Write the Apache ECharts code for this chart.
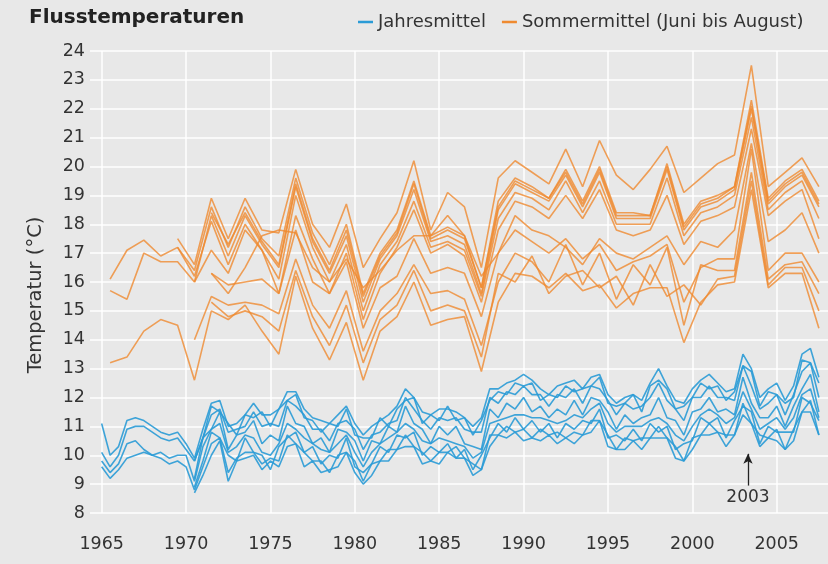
<!DOCTYPE html>
<html>
<head>
<meta charset="utf-8">
<title>Flusstemperaturen</title>
<script src="https://cdn.jsdelivr.net/npm/echarts@6/dist/echarts.min.js"></script>
<style>
  html, body { margin: 0; padding: 0; background: #e8e8e8; }
  #chart { width: 828px; height: 564px; }
</style>
</head>
<body>
<div id="chart"></div>
<script>
// Sommermittel (Juni bis August), ein Wert pro Jahr und Station
const summerYears = [1965, 1966, 1967, 1968, 1969, 1970, 1971, 1972, 1973, 1974,
  1975, 1976, 1977, 1978, 1979, 1980, 1981, 1982, 1983, 1984,
  1985, 1986, 1987, 1988, 1989, 1990, 1991, 1992, 1993, 1994,
  1995, 1996, 1997, 1998, 1999, 2000, 2001, 2002, 2003, 2004,
  2005, 2006, 2007];

const summer1 = [null, null, null, null, 17.5, 16.6, 18.9, 17.5, 18.9, 17.8,
  17.7, 19.9, 18.0, 17.2, 18.7, 16.5, 17.5, 18.4, 20.2, 17.8,
  19.1, 18.6, 16.5, 19.6, 20.2, 19.8, 19.4, 20.6, 19.3, 20.9,
  19.7, 19.2, 19.9, 20.7, 19.1, 19.6, 20.1, 20.4, 23.5, 19.3,
  19.8, 20.3, 19.3];
const summer2 = [16.1, 17.1, 17.45, 16.9, 17.2, 16.4, 18.6, 17.2, 18.6, 17.5,
  16.9, 19.6, 17.7, 16.6, 18.0, 15.6, 17.0, 17.8, 19.5, 17.6,
  17.9, 17.6, 15.8, 18.8, 19.6, 19.3, 18.9, 19.9, 18.8, 20.0,
  18.4, 18.4, 18.3, 20.1, 18.0, 18.8, 19.0, 19.3, 22.3, 18.9,
  19.5, 19.9, 18.8];
const summer3 = [15.7, 15.4, 17.0, 16.7, 16.7, 16.0, 18.3, 16.9, 18.3, 17.3,
  16.5, 19.3, 17.4, 16.3, 17.6, 15.3, 16.8, 17.6, 19.2, 17.4,
  17.6, 17.3, 15.6, 18.5, 19.4, 19.1, 18.8, 19.7, 18.6, 19.8,
  18.2, 18.2, 18.2, 19.9, 17.8, 18.6, 18.8, 19.2, 22.0, 18.7,
  19.3, 19.7, 18.6];
const summer4 = [null, null, null, null, 17.2, 16.2, 18.1, 16.6, 18.0, 17.1,
  16.1, 19.0, 17.2, 16.0, 17.3, 15.0, 16.6, 17.4, 18.8, 17.2,
  17.4, 17.1, 15.5, 18.2, 19.1, 18.9, 18.5, 19.5, 18.4, 19.5,
  18.0, 18.0, 18.0, 19.6, 17.6, 18.4, 18.6, 19.0, 21.7, 18.5,
  19.1, 19.5, 18.2];
const summer5 = [null, null, null, null, null, 16.0, 17.1, 16.3, 17.8, 17.1,
  15.6, 18.3, 16.8, 15.6, 17.0, 14.7, 16.3, 17.2, 18.5, 17.0,
  17.3, 16.9, 15.3, 17.8, 18.8, 18.6, 18.2, 19.0, 18.2, 19.2,
  17.8, 17.6, 17.8, 19.0, 17.3, 18.1, 18.3, 18.6, 21.3, 18.3,
  18.8, 19.2, 17.5];
const summer6 = [null, null, null, null, null, null, 16.3, 15.6, 16.5, 17.6,
  17.8, 17.7, 16.5, 16.0, 16.8, 15.8, 16.4, 17.1, 17.6, 17.6,
  18.3, 17.6, 16.2, 17.0, 18.3, 17.8, 17.6, 17.2, 16.6, 17.5,
  17.0, 16.8, 17.2, 17.6, 16.6, 17.4, 17.2, 17.8, 20.8, 17.4,
  17.8, 18.4, 17.0];
const summer7 = [13.2, 13.4, 14.3, 14.7, 14.5, 12.6, 15.0, 14.7, 15.2, 14.3,
  13.5, 16.2, 14.4, 13.3, 14.6, 12.6, 14.3, 14.8, 16.0, 14.5,
  14.7, 14.8, 12.9, 15.3, 16.3, 16.2, 15.8, 16.3, 15.7, 15.9,
  15.1, 15.6, 15.8, 15.8, 13.9, 15.3, 15.9, 16.0, 19.2, 15.8,
  16.3, 16.3, 14.4];
const summer8 = [null, null, null, null, null, 14.0, 15.5, 15.2, 15.3, 15.2,
  14.9, 16.8, 15.2, 14.4, 15.7, 13.6, 15.0, 15.6, 16.6, 15.6,
  15.7, 15.4, 13.8, 16.0, 17.0, 16.7, 16.0, 17.3, 15.9, 17.0,
  15.4, 16.6, 15.9, 17.2, 14.5, 16.6, 16.4, 16.4, 19.8, 16.1,
  16.6, 16.7, 15.6];
const summer9 = [null, null, null, null, null, null, 16.3, 15.9, 16.0, 16.1,
  15.6, 17.8, 16.0, 15.6, 16.7, 14.4, 15.8, 16.2, 17.5, 16.3,
  16.5, 16.3, 14.8, 17.0, 17.8, 17.4, 17.0, 17.5, 16.8, 17.3,
  16.4, 16.7, 16.9, 17.3, 15.3, 16.5, 16.8, 16.8, 20.6, 16.4,
  17.0, 17.0, 16.0];
const summer10 = [null, null, null, null, null, null, 15.3, 14.8, 15.0, 14.8,
  14.3, 16.4, 14.8, 13.8, 15.2, 13.2, 14.7, 15.2, 16.4, 15.0,
  15.2, 15.0, 13.4, 16.3, 16.0, 16.9, 15.6, 16.2, 16.4, 15.8,
  16.2, 15.2, 16.6, 15.5, 15.9, 15.2, 16.1, 16.2, 19.5, 15.9,
  16.5, 16.5, 15.0];
const summer11 = [null, null, null, null, null, null, 18.4, 17.3, 18.4, 17.4,
  16.6, 19.4, 17.5, 16.4, 17.8, 15.5, 16.9, 17.7, 19.4, 17.5,
  17.8, 17.5, 15.8, 18.6, 19.5, 19.2, 18.9, 19.8, 18.7, 19.9,
  18.3, 18.3, 18.3, 20.0, 17.9, 18.7, 18.9, 19.3, 22.1, 18.8,
  19.4, 19.8, 18.7];

// Jahresmittel, gleitend, ein Wert pro Halbjahr ab 1965.0
const annualStart = 1965;
const annual1 = [11.1, 10.0, 10.3, 11.2, 11.3, 11.2, 11.0, 10.8, 10.7, 10.8,
  10.4, 9.9, 10.9, 11.8, 11.9, 11.0, 11.1, 11.4, 11.8, 11.4,
  11.4, 11.6, 12.2, 12.2, 11.6, 11.3, 11.2, 11.1, 11.4, 11.7,
  11.1, 10.7, 11.0, 11.2, 11.4, 11.7, 12.3, 12.0, 11.5, 11.4,
  11.6, 11.6, 11.5, 11.3, 11.0, 11.3, 12.3, 12.3, 12.5, 12.6,
  12.8, 12.6, 12.3, 12.1, 12.4, 12.5, 12.6, 12.3, 12.7, 12.8,
  12.1, 11.8, 12.0, 12.1, 11.9, 12.5, 13.0, 12.4, 11.9, 11.8,
  12.3, 12.6, 12.8, 12.5, 12.2, 12.3, 13.5, 13.0, 12.0, 12.3,
  12.5, 11.9, 12.4, 13.5, 13.7, 12.7];
const annual2 = [null, null, null, null, null, null, null, null, null, null, null,
  9.8, 10.6, 11.7, 11.5, 11.1, 10.7, 11.4, 11.3, 11.5,
  11.0, 11.6, 11.9, 12.1, 11.3, 11.2, 10.8, 11.1, 11.0, 11.6,
  10.7, 10.6, 10.6, 11.3, 11.0, 11.6, 11.9, 12.0, 11.1, 11.4,
  11.2, 11.7, 11.2, 11.3, 10.7, 11.2, 11.9, 12.2, 12.1, 12.5,
  12.4, 12.5, 11.9, 12.1, 12.0, 12.4, 12.2, 12.3, 12.4, 12.7,
  11.8, 11.7, 11.8, 12.1, 11.5, 12.4, 12.6, 12.3, 11.6, 11.7,
  12.0, 12.5, 12.3, 12.4, 11.9, 12.2, 13.1, 12.9, 11.7, 12.2,
  12.1, 11.8, 12.0, 13.3, 13.2, 12.5];
const annual3 = [10.1, 9.6, 10.0, 10.9, 11.0, 11.0, 10.8, 10.6, 10.5, 10.6,
  10.2, 9.8, 10.6, 11.4, 11.6, 10.8, 10.9, 11.0, 11.5, 11.0,
  11.1, 11.0, 11.9, 11.7, 11.4, 10.9, 10.9, 10.5, 11.1, 11.2,
  10.9, 10.2, 10.7, 10.8, 11.1, 11.2, 12.0, 11.6, 11.2, 10.9,
  11.3, 11.2, 11.3, 10.9, 10.8, 10.8, 12.0, 11.8, 12.2, 12.1,
  12.4, 12.1, 12.1, 11.7, 12.1, 12.0, 12.3, 11.8, 12.4, 12.3,
  11.9, 11.4, 11.8, 11.6, 11.7, 12.0, 12.5, 11.9, 11.6, 11.2,
  12.0, 12.0, 12.4, 12.0, 12.0, 11.9, 13.1, 12.4, 11.6, 11.8,
  12.1, 11.4, 12.1, 12.9, 13.2, 12.0];
const annual4 = [null, null, null, null, null, null, null, null, null, null, null,
  9.2, 10.6, 10.9, 11.5, 10.2, 10.7, 10.8, 11.2, 10.4,
  10.7, 10.5, 11.7, 11.1, 11.0, 10.4, 10.6, 10.1, 10.9, 10.8,
  10.5, 9.8, 10.5, 10.4, 11.0, 10.8, 11.7, 11.1, 10.9, 10.4,
  11.0, 10.7, 11.0, 10.4, 10.3, 10.2, 11.6, 11.3, 11.8, 11.6,
  12.0, 11.5, 11.7, 11.3, 11.6, 11.4, 11.9, 11.4, 12.0, 11.9,
  11.5, 10.9, 11.4, 11.1, 11.3, 11.4, 12.0, 11.3, 11.2, 10.7,
  11.5, 11.6, 12.0, 11.5, 11.6, 11.4, 12.7, 11.8, 11.3, 11.3,
  11.7, 11.0, 11.7, 12.3, 12.8, 11.5];
const annual5 = [9.8, 9.4, 9.7, 10.4, 10.5, 10.2, 10.0, 10.1, 9.9, 10.0,
  10.0, 9.1, 10.3, 10.9, 11.1, 10.1, 10.3, 10.7, 10.6, 10.1,
  10.0, 10.4, 11.1, 10.9, 10.6, 10.4, 10.2, 10.1, 10.4, 10.7,
  10.1, 9.6, 10.1, 10.4, 10.6, 10.8, 11.1, 10.9, 10.5, 10.4,
  10.6, 10.5, 10.4, 10.3, 9.9, 10.1, 11.1, 11.2, 11.3, 11.4,
  11.4, 11.3, 11.3, 11.2, 11.1, 11.2, 11.4, 11.3, 11.6, 11.8,
  11.1, 10.8, 11.0, 11.0, 11.0, 11.2, 11.3, 11.1, 10.7, 10.5,
  11.0, 11.4, 11.6, 11.4, 11.1, 11.3, 12.2, 11.6, 10.9, 11.1,
  11.3, 10.9, 11.3, 12.1, 12.3, 11.3];
const annual6 = [null, null, null, null, null, null, null, null, null, null, null,
  8.9, 9.8, 10.8, 10.6, 10.0, 9.8, 10.6, 10.1, 10.0,
  9.5, 10.3, 10.6, 10.8, 10.1, 10.3, 9.7, 10.0, 9.9, 10.6,
  9.6, 9.4, 9.7, 10.3, 10.1, 10.7, 10.6, 10.8, 10.0, 10.3,
  10.1, 10.4, 9.9, 10.2, 9.5, 10.0, 10.6, 11.1, 10.8, 11.3,
  10.9, 11.2, 10.8, 11.1, 10.6, 11.1, 10.9, 11.2, 11.1, 11.6,
  10.6, 10.7, 10.5, 10.9, 10.5, 11.1, 10.8, 11.0, 10.2, 10.4,
  10.5, 11.3, 11.1, 11.3, 10.6, 11.2, 11.7, 11.5, 10.4, 11.0,
  10.8, 10.8, 10.8, 12.0, 11.8, 11.2];
const annual7 = [9.6, 9.2, 9.5, 9.9, 10.0, 10.1, 10.0, 9.9, 9.7, 9.8,
  9.6, 8.8, 9.6, 10.4, 10.6, 9.4, 9.9, 10.1, 10.1, 9.7,
  9.9, 9.8, 10.7, 10.4, 10.1, 9.8, 9.8, 9.4, 10.0, 10.1,
  9.8, 9.1, 9.7, 9.8, 10.2, 10.2, 10.7, 10.3, 10.1, 9.8,
  10.1, 10.1, 10.3, 9.9, 9.7, 9.5, 10.7, 10.7, 11.0, 10.8,
  10.9, 10.6, 10.9, 10.7, 10.8, 10.6, 10.8, 10.7, 11.2, 11.2,
  10.7, 10.2, 10.6, 10.5, 10.6, 10.6, 11.0, 10.6, 10.3, 9.8,
  10.6, 10.7, 11.1, 10.8, 10.7, 10.7, 11.8, 11.1, 10.7, 10.6,
  10.9, 10.2, 10.9, 11.5, 11.9, 10.7];
const annual8 = [null, null, null, null, null, null, null, null, null, null, null,
  8.7, 9.3, 10.0, 10.5, 9.1, 9.8, 9.9, 10.0, 9.5,
  9.8, 9.6, 10.3, 10.4, 9.6, 9.8, 9.4, 9.5, 9.6, 10.1,
  9.4, 9.0, 9.3, 9.8, 9.8, 10.2, 10.3, 10.3, 9.7, 9.8,
  9.7, 10.1, 9.9, 9.9, 9.3, 9.5, 10.3, 10.7, 10.6, 10.8,
  10.5, 10.6, 10.5, 10.7, 10.4, 10.6, 10.4, 10.7, 10.8, 11.2,
  10.3, 10.2, 10.2, 10.5, 10.2, 10.6, 10.6, 10.6, 9.9, 9.8,
  10.2, 10.7, 10.7, 10.8, 10.3, 10.7, 11.4, 11.1, 10.3, 10.6,
  10.5, 10.2, 10.5, 11.5, 11.5, 10.7];

const xTicks = [1965, 1970, 1975, 1980, 1985, 1990, 1995, 2000, 2005];
const yTicks = [8, 9, 10, 11, 12, 13, 14, 15, 16, 17, 18, 19, 20, 21, 22, 23, 24];

const BLUE = '#2a9bd6';
const ORANGE = '#ef8a30';
const NAME_ANNUAL = 'Jahresmittel';
const NAME_SUMMER = 'Sommermittel (Juni bis August)';

const summerSeries = [summer1, summer2, summer3, summer4, summer5, summer6,
  summer7, summer8, summer9, summer10, summer11];
const annualSeries = [annual1, annual2, annual3, annual4, annual5, annual6, annual7, annual8];

let series = [];
annualSeries.forEach(vals => {
  series.push({
    name: NAME_ANNUAL,
    type: 'line',
    symbol: 'none',
    // Halbjahresschritte
    data: vals.map((v, i) => [annualStart + i * 0.5, v]),
    lineStyle: { color: BLUE, width: 1.6, opacity: 0.9 },
    itemStyle: { color: BLUE }
  });
});
summerSeries.forEach(vals => {
  series.push({
    name: NAME_SUMMER,
    type: 'line',
    symbol: 'none',
    // Sommerwerte in der Jahresmitte eingetragen
    data: vals.map((v, i) => [summerYears[i] + 0.5, v]),
    lineStyle: { color: ORANGE, width: 1.6, opacity: 0.8 },
    itemStyle: { color: ORANGE }
  });
});
// Pfeil auf den Hitzesommer 2003
series.push({
  type: 'line',
  data: [],
  markLine: {
    silent: true,
    symbol: ['none', 'arrow'],
    symbolSize: [7, 10],
    lineStyle: { color: '#222', width: 1.3, type: 'solid' },
    label: { show: true, position: 'start', formatter: '2003', color: '#333',
      fontSize: 17, fontFamily: 'DejaVu Sans', distance: 4 },
    data: [[{ coord: [2003.3, 8.95] }, { coord: [2003.3, 10.05] }]]
  }
});

const chart = echarts.init(document.getElementById('chart'));
chart.setOption({
  animation: false,
  backgroundColor: '#e8e8e8',
  textStyle: { fontFamily: 'DejaVu Sans' },
  title: {
    text: 'Flusstemperaturen',
    left: 29, top: 8, padding: 0,
    textStyle: { fontSize: 20, fontWeight: 'bold', color: '#222', fontFamily: 'DejaVu Sans' }
  },
  legend: {
    data: [NAME_ANNUAL, NAME_SUMMER],
    left: 353, top: 8,
    icon: 'rect', itemWidth: 15, itemHeight: 2.5, itemGap: 16,
    textStyle: { fontSize: 18, color: '#333', fontFamily: 'DejaVu Sans' }
  },
  grid: { left: 90, right: 0, top: 51, bottom: 51 },
  xAxis: {
    type: 'value',
    min: 1964.31, max: 2008.04,
    splitNumber: 8,
    axisLine: { show: false },
    axisTick: { show: false },
    axisLabel: {
      color: '#333', fontSize: 17.5, margin: 22,
      showMinLabel: false, showMaxLabel: false,
      formatter: v => xTicks.includes(v) ? String(v) : ''
    },
    splitLine: { show: true, showMinLine: false, showMaxLine: false,
      lineStyle: { color: '#ffffff', width: 1.5 } }
  },
  yAxis: {
    type: 'value',
    min: yTicks[0], max: yTicks[yTicks.length - 1], interval: 1,
    axisLine: { show: false },
    axisTick: { show: false },
    axisLabel: { color: '#333', fontSize: 17.5, margin: 5 },
    splitLine: { lineStyle: { color: '#ffffff', width: 1.5 } }
  },
  graphic: [{
    type: 'text',
    x: 36, y: 295,
    rotation: Math.PI / 2,
    style: { text: 'Temperatur (°C)', fill: '#333', fontSize: 19.5,
      fontFamily: 'DejaVu Sans', align: 'center', verticalAlign: 'middle' }
  }],
  series: series
});
</script>
</body>
</html>
